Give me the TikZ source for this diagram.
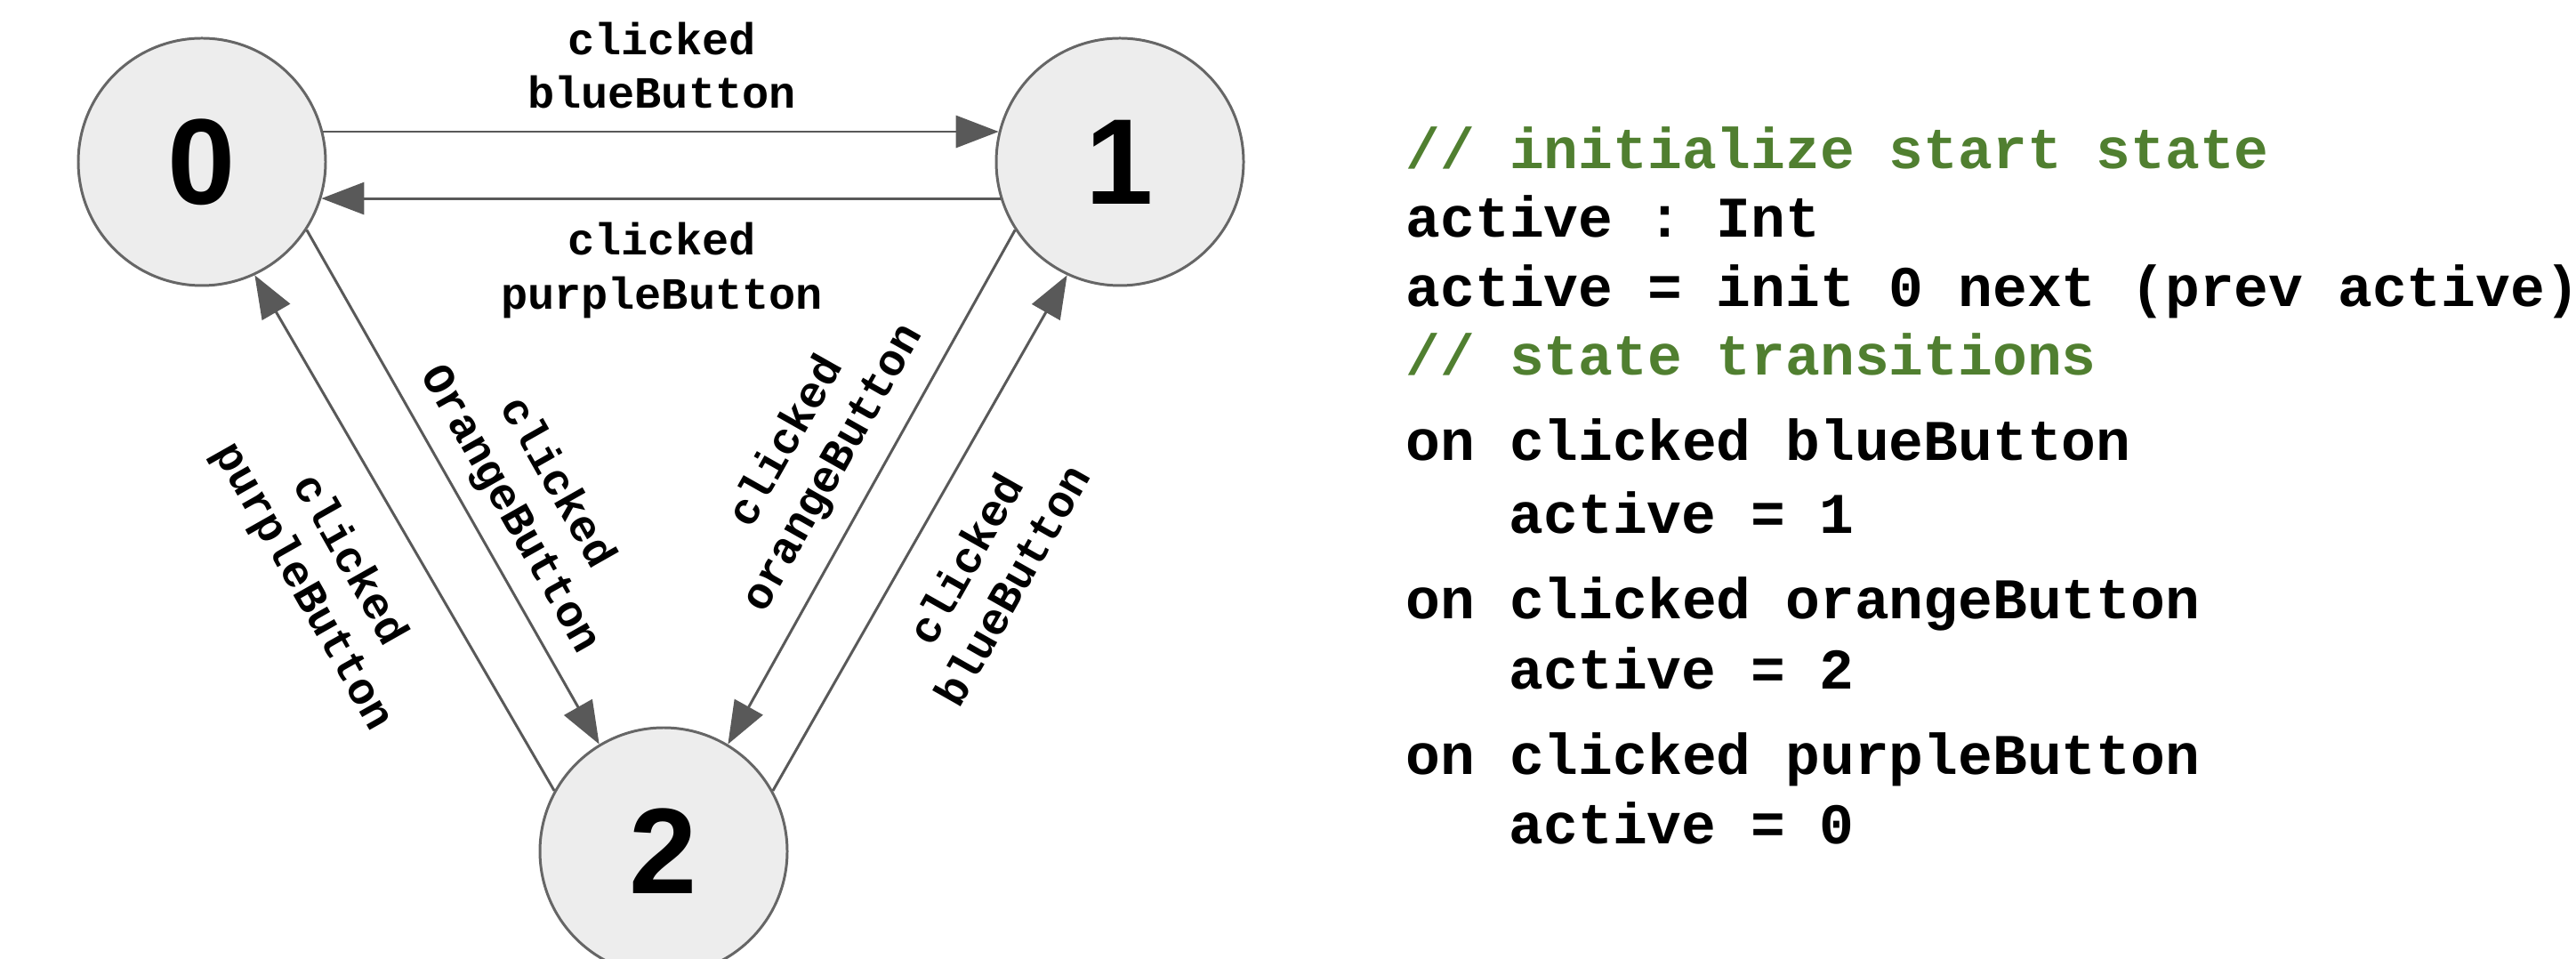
\documentclass[tikz,border=0pt]{standalone}
\usepackage{fontspec}
\setmonofont{Liberation Mono}
\newfontfamily\numfont{Liberation Sans}
\usetikzlibrary{arrows.meta}
\definecolor{cmtgreen}{RGB}{80,127,48}
\definecolor{edgegray}{RGB}{89,89,89}
\tikzset{
  >={Triangle[length=4.8mm,width=3.6mm]},
  st/.style={circle,draw=black!60,fill=black!7,line width=0.85pt,minimum size=2.78cm,inner sep=0pt,
    font=\numfont\bfseries\fontsize{39}{40}\selectfont},
  arr/.style={->,draw=edgegray,fill=edgegray,line width=0.85pt},
  lbl/.style={align=center,inner sep=0pt,font=\ttfamily\bfseries\fontsize{14.3}{17.1}\selectfont},
  code/.style={anchor=base west,inner sep=0pt,font=\ttfamily\bfseries\fontsize{18.4}{22}\selectfont},
  cmt/.style={code,text=cmtgreen},
}
\begin{document}
\begin{tikzpicture}[y=-1cm]
\useasboundingbox (0,0) rectangle (28.96,10.78);
% states
\node[st] (n0) at (2.27,1.82){0}; \node[st] (n1) at (12.59,1.82){1}; \node[st] (n2) at (7.46,9.57){2};
% transitions
\draw[arr] (n0.14)--(n1.166); \draw[arr] (n1.197.5)--(n0.-17.5);
\draw[arr] (n0.-33)--(n2.121); \draw[arr] (n2.151)--(n0.-65);
\draw[arr] (n1.213)--(n2.59); \draw[arr] (n2.29)--(n1.245);
% edge labels
\node[lbl] (l01) at (7.44,0.735){clicked\\blueButton};
\node[lbl] (l10) at (7.44,3.04){clicked\\purpleButton};
\node[lbl,rotate=-60.5] (l02) at (5.99,5.58){clicked\\OrangeButton};
\node[lbl,rotate=-60.5] (l20) at (3.66,6.45){clicked\\purpleButton};
\node[lbl,rotate=60.5] (l12) at (9.11,5.12){clicked\\orangeButton};
\node[lbl,rotate=60.5] (l21) at (11.11,6.43){clicked\\blueButton};
% program text
\node[cmt] (c1) at (15.80,1.90){// initialize start state};
\node[code] (c2) at (15.80,2.67){active : Int};
\node[code] (c3) at (15.80,3.45){active = init 0 next (prev active)};
\node[cmt] (c4) at (15.80,4.22){// state transitions};
\node[code] (c5) at (15.80,5.18){on clicked blueButton};
\node[code] (c6) at (16.96,6.00){active = 1};
\node[code] (c7) at (15.80,6.96){on clicked orangeButton};
\node[code] (c8) at (16.96,7.75){active = 2};
\node[code] (c9) at (15.80,8.71){on clicked purpleButton};
\node[code] (c10) at (16.96,9.49){active = 0};
\end{tikzpicture}
\end{document}
